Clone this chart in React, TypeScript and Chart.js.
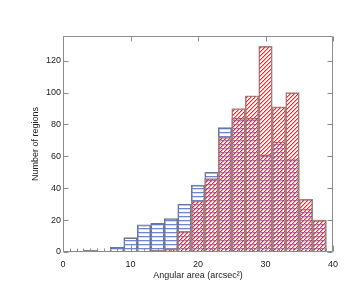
import React, { useEffect, useRef } from "react";
import { Chart, registerables } from "chart.js";

Chart.register(...registerables);

// Bin centres (bin width 2, arcsec^2)
const binCenters = [2, 4, 6, 8, 10, 12, 14, 16, 18, 20, 22, 24, 26, 28, 30, 32, 34, 36, 38];
// Blue (horizontal hatch) histogram
const blueCounts = [0, 0, 0, 3, 9, 17, 18, 21, 30, 42, 50, 78, 84, 84, 61, 69, 58, 27, 20];
// Red (diagonal hatch) histogram
const redCounts = [0, 1, 0, 0, 0, 0, 1, 2, 13, 32, 46, 72, 90, 98, 129, 91, 100, 33, 20];

const xMajorTicks = [0, 10, 20, 30, 40];
const xMinorTicks = Array.from({ length: 41 }, (_, i) => i);
const yTicks = [0, 20, 40, 60, 80, 100, 120];

const X_MIN = 0;
const X_MAX = 40;
const Y_MIN = 0;
const Y_MAX = 135.5;

function makeBluePattern(): CanvasPattern | string {
  const c = document.createElement("canvas");
  c.width = 4;
  c.height = 4;
  const g = c.getContext("2d");
  if (!g) return "rgba(80,110,225,0.4)";
  g.fillStyle = "rgba(75,110,240,0.85)";
  g.fillRect(0, 0, 4, 1);
  g.fillStyle = "rgba(175,195,248,0.6)";
  g.fillRect(0, 1, 4, 1);
  return g.createPattern(c, "repeat") || "rgba(80,110,225,0.4)";
}

function makeRedPattern(): CanvasPattern | string {
  const c = document.createElement("canvas");
  c.width = 4;
  c.height = 4;
  const g = c.getContext("2d");
  if (!g) return "rgba(255,50,50,0.4)";
  for (let i = 0; i < 4; i++) {
    g.fillStyle = "rgb(255,30,30)";
    g.fillRect(3 - i, i, 1, 1);
    g.fillStyle = "rgba(255,140,140,0.75)";
    g.fillRect((4 - i) % 4, i, 1, 1);
  }
  return g.createPattern(c, "repeat") || "rgba(255,50,50,0.4)";
}

const framePlugin = {
  id: "idlFrame",
  afterDatasetsDraw(chart: any) {
    const { ctx, chartArea, scales } = chart;
    const xs = scales.x;
    const ys = scales.y;
    const L = Math.round(chartArea.left) + 0.5;
    const R = Math.round(chartArea.right) - 0.5;
    const T = Math.round(chartArea.top) + 0.5;
    const B = Math.round(chartArea.bottom) - 0.5;
    ctx.save();
    ctx.strokeStyle = "#8c8c8c";
    ctx.lineWidth = 1;
    ctx.beginPath();
    ctx.rect(L, T, R - L, B - T);
    // bottom minor ticks
    xMinorTicks.forEach((v) => {
      const px = Math.round(xs.getPixelForValue(v)) + 0.5;
      ctx.moveTo(px, B);
      ctx.lineTo(px, B - 3);
    });
    // bottom & top major ticks
    xMajorTicks.forEach((v) => {
      const px = Math.round(xs.getPixelForValue(v)) + 0.5;
      ctx.moveTo(px, B);
      ctx.lineTo(px, B - 6);
      ctx.moveTo(px, T);
      ctx.lineTo(px, T + 5);
    });
    // left & right major ticks
    yTicks.forEach((v) => {
      const py = Math.round(ys.getPixelForValue(v)) + 0.5;
      ctx.moveTo(L, py);
      ctx.lineTo(L + 5, py);
      ctx.moveTo(R, py);
      ctx.lineTo(R - 5, py);
    });
    ctx.stroke();
    ctx.restore();
  },
};

export default function App() {
  const canvasRef = useRef<HTMLCanvasElement | null>(null);

  useEffect(() => {
    const canvas = canvasRef.current;
    if (!canvas) return;
    const bluePat = makeBluePattern();
    const redPat = makeRedPattern();
    const font = { family: "'Liberation Sans', Arial, Helvetica, sans-serif", size: 9 };

    const chart = new Chart(canvas, {
      type: "bar",
      data: {
        datasets: [
          {
            label: "red",
            data: binCenters.map((x, i) => ({ x, y: redCounts[i] })),
            backgroundColor: redPat as any,
            borderColor: "#8a8a8a",
            borderWidth: 1,
            borderSkipped: "start",
            grouped: false,
            barPercentage: 1,
            categoryPercentage: 1,
          } as any,
          {
            label: "blue",
            data: binCenters.map((x, i) => ({ x, y: blueCounts[i] })),
            backgroundColor: bluePat as any,
            borderColor: "#707884",
            borderWidth: 1,
            borderSkipped: "start",
            grouped: false,
            barPercentage: 1,
            categoryPercentage: 1,
          } as any,
        ],
      },
      options: {
        responsive: false,
        animation: false,
        devicePixelRatio: 1,
        layout: { padding: { left: 0, top: 36, right: 27, bottom: 0 } },
        plugins: {
          legend: { display: false },
          tooltip: { enabled: false },
        },
        scales: {
          x: {
            type: "linear",
            min: X_MIN,
            max: X_MAX,
            offset: false,
            grid: { display: false, drawTicks: false, offset: false },
            border: { display: false },
            afterBuildTicks: (scale: any) => {
              scale.ticks = xMajorTicks.map((v) => ({ value: v }));
            },
            afterFit: (scale: any) => {
              scale.height = 36;
            },
            ticks: {
              font,
              color: "#222",
              padding: 7,
              maxRotation: 0,
              autoSkip: false,
            },
            title: {
              display: true,
              text: "Angular area (arcsec²)",
              font,
              color: "#222",
              padding: { top: 0, bottom: 7 },
            },
          },
          y: {
            type: "linear",
            min: Y_MIN,
            max: Y_MAX,
            grid: { display: false, drawTicks: false },
            border: { display: false },
            afterBuildTicks: (scale: any) => {
              scale.ticks = yTicks.map((v) => ({ value: v }));
            },
            afterFit: (scale: any) => {
              scale.width = 63;
            },
            ticks: {
              font,
              color: "#222",
              padding: 2,
              autoSkip: false,
            },
            title: {
              display: true,
              text: "Number of regions",
              font,
              color: "#222",
              padding: { top: 30, bottom: 0 },
            },
          },
        },
      },
      plugins: [framePlugin],
    } as any);

    return () => chart.destroy();
  }, []);

  return (
    <div style={{ position: "absolute", left: 0, top: 0, width: 360, height: 288, background: "#fff" }}>
      <canvas ref={canvasRef} width={360} height={288} style={{ display: "block" }} />
    </div>
  );
}
